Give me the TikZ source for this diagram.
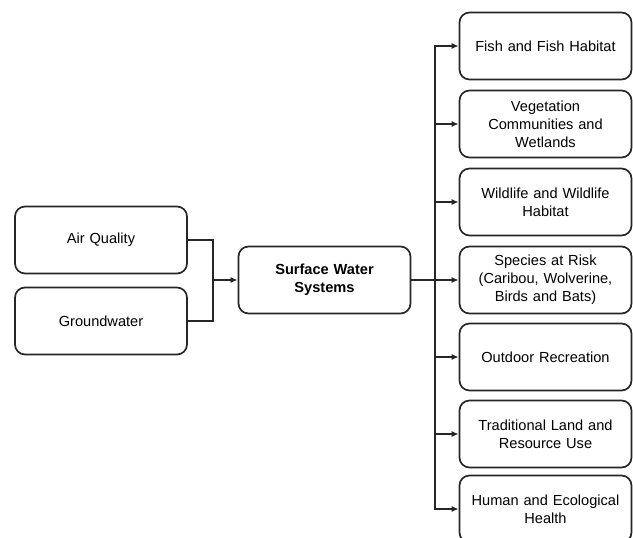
\documentclass[tikz,border=0pt]{standalone}
\usepackage{fontspec}
\setmainfont{Liberation Sans}
\usetikzlibrary{arrows.meta}
\definecolor{ln}{HTML}{262626}
\begin{document}
\begin{tikzpicture}[x=1pt,y=-1pt,
  box/.style={draw=ln,line width=1.7pt,rounded corners=10pt,minimum width=172pt,minimum height=67pt,
    align=center,text width=168pt,font=\fontsize{14.6}{17.8}\selectfont,inner sep=0pt},
  conn/.style={draw=ln,line width=1.7pt},
  arr/.style={conn,-{Latex[length=7pt,width=6pt]}}]
\clip (0,0) rectangle (633,538);
\useasboundingbox (0,0) rectangle (633,538);
\node[box] (a1) at (101,240) {Air Quality};
\node[box] (a2) at (101,321) {Groundwater};
\node[box,font=\fontsize{14.6}{17.8}\selectfont\bfseries] (c) at (324.5,280) {Surface Water\\Systems};
\node[box] (r1) at (545.5,46) {Fish and Fish Habitat};
\node[box] (r2) at (545.5,124) {Vegetation\\Communities and\\Wetlands};
\node[box] (r3) at (545.5,202) {Wildlife and Wildlife\\Habitat};
\node[box] (r4) at (545.5,280) {Species at Risk\\(Caribou, Wolverine,\\Birds and Bats)};
\node[box] (r5) at (545.5,357) {Outdoor Recreation};
\node[box] (r6) at (545.5,434) {Traditional Land and\\Resource Use};
\node[box] (r7) at (545.5,509) {Human and Ecological\\Health};
\coordinate (m) at (213,280);
\coordinate (b) at (435,280);
\draw[conn] (a1.east) -| (m);
\draw[conn] (a2.east) -| (m);
\draw[arr] (m) -- (c.west);
\draw[conn] (c.east) -- (b);
\foreach \i in {1,...,7} {\draw[arr] (b) |- (r\i.west);}
\end{tikzpicture}
\end{document}
